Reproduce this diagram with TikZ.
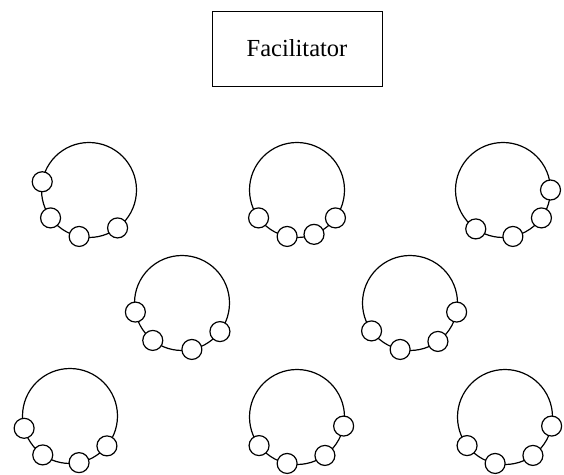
\documentclass[tikz,border=0pt]{standalone}
\usepackage{fontspec}
\setmainfont{Liberation Serif}
\begin{document}
\begin{tikzpicture}[x=1pt,y=1pt,
  tablecircle/.style={circle,draw,line width=1.2pt,minimum size=95pt,inner sep=0pt,outer sep=0pt},
  seat/.style={circle,draw,fill=white,line width=1.2pt,minimum size=20pt,inner sep=0pt},
  facbox/.style={rectangle,draw,line width=0.9pt,minimum width=170pt,minimum height=75pt,font=\fontsize{24.5}{28}\selectfont}]
\useasboundingbox (0,0) rectangle (564,474);
\node[facbox] (fac) at (297,425.5) {Facilitator};
% tables: name / x / y / seat angles
\foreach \n/\x/\y/\a/\b/\c/\d in {
  ta/89/284/170/216/258/307,
  tb/297/284/216/258/291/324,
  tc/503/284/235/282/324/360,
  md/182/171/191/232/282/323,
  me/410/171/216/258/306/349,
  bf/70/58/195/235/281/321,
  bg/297/57/217/258/306/349,
  bh/505/57/217/258/306/349}{
  \node[tablecircle] (\n) at (\x,\y) {};
  \node[seat] (\n-1) at (\n.\a) {};
  \node[seat] (\n-2) at (\n.\b) {};
  \node[seat] (\n-3) at (\n.\c) {};
  \node[seat] (\n-4) at (\n.\d) {};
}
\end{tikzpicture}
\end{document}
